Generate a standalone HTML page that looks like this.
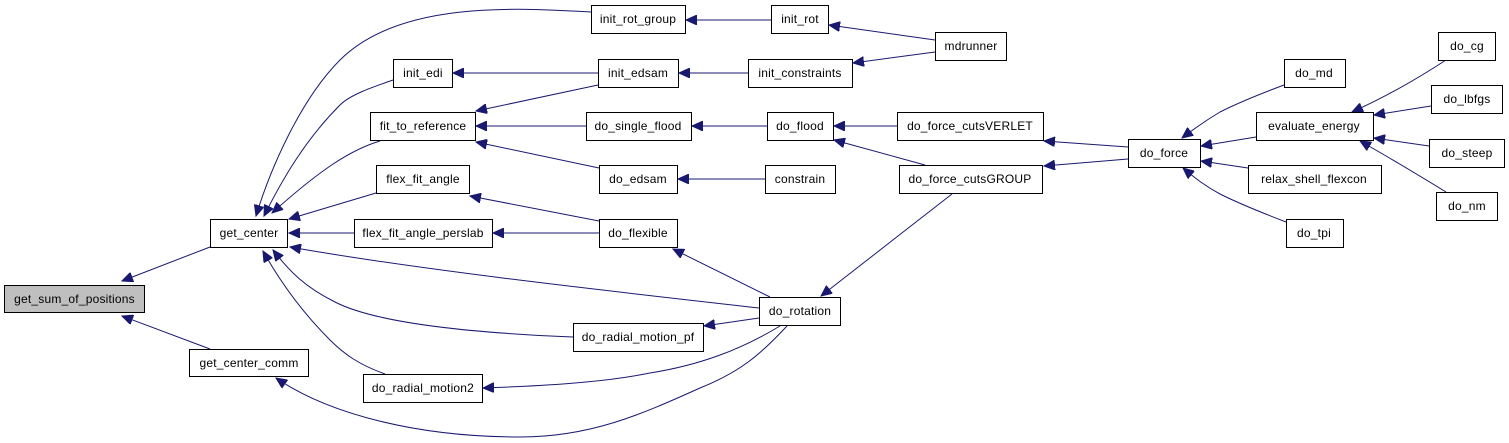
<!DOCTYPE html>
<html><head><meta charset="utf-8"><style>
html,body{margin:0;padding:0;background:#fff;}
svg{display:block;}
text{font-family:"Liberation Sans",Arial,sans-serif;font-size:12px;letter-spacing:0.2px;fill:#000;text-anchor:middle;}
rect{fill:#fff;stroke:#000;stroke-width:1;}
path{fill:none;stroke:#191970;stroke-width:1;}
</style></head><body>
<svg width="1509" height="443" viewBox="0 0 1509 443">
<defs><marker id="a" markerWidth="12" markerHeight="10" refX="11" refY="5" orient="auto" markerUnits="userSpaceOnUse"><path d="M0,0 L11,5 L0,10 Z" style="fill:#191970;stroke:#191970"/></marker></defs>
<g marker-end="url(#a)">
<path d="M210,247 L122,281"/>
<path d="M210,349 L122,316"/>
<path d="M591,12 C520,8 400,0 340,60 C300,100 270,170 256,216"/>
<path d="M393,80 C370,88 350,95 340,105 C305,140 282,180 264,216"/>
<path d="M380,141 C350,150 320,170 272,213"/>
<path d="M376,193 L289,219"/>
<path d="M354,233 L289,233"/>
<path d="M759,308 C600,290 420,270 290,247"/>
<path d="M573,337 C450,332 370,320 335,302 C305,287 290,272 273,250"/>
<path d="M385,374 C360,365 345,355 330,340 C305,315 282,285 263,251"/>
<path d="M598,73 L453,73"/>
<path d="M598,85 L476,111"/>
<path d="M586,126 L476,126"/>
<path d="M599,168 L476,142"/>
<path d="M599,221 L470,196"/>
<path d="M599,233 L493,233"/>
<path d="M770,297 L673,249"/>
<path d="M759,318 L704,326"/>
<path d="M780,326 C740,350 700,365 650,373 C600,383 540,386 483,388"/>
<path d="M787,326 C760,355 740,372 700,388 C640,415 590,437 520,437 C420,437 330,415 276,378"/>
<path d="M771,20 L686,20"/>
<path d="M748,73 L679,73"/>
<path d="M935,40 L829,25"/>
<path d="M935,52 L853,63"/>
<path d="M767,126 L692,126"/>
<path d="M765,179 L678,179"/>
<path d="M897,126 L834,126"/>
<path d="M925,165 L834,140"/>
<path d="M952,194 L821,296"/>
<path d="M1128,147 L1044,141"/>
<path d="M1128,159 L1044,166"/>
<path d="M1284,85 C1260,94 1240,102 1220,112 C1205,121 1195,128 1182,138"/>
<path d="M1256,137 L1201,146"/>
<path d="M1248,168 L1201,161"/>
<path d="M1286,222 C1260,212 1240,204 1220,194 C1205,186 1195,178 1183,168"/>
<path d="M1446,60 C1420,77 1390,95 1352,112"/>
<path d="M1431,106 L1374,115"/>
<path d="M1429,146 L1374,138"/>
<path d="M1446,192 C1420,176 1390,158 1360,141"/>
</g>
<rect x="4.5" y="285.5" width="140" height="27" style="fill:#bfbfbf"/><text x="74.5" y="303">get_sum_of_positions</text>
<rect x="210.5" y="219.5" width="77" height="28"/><text x="249" y="237">get_center</text>
<rect x="189.5" y="349.5" width="119" height="27"/><text x="249" y="367">get_center_comm</text>
<rect x="393.5" y="59.5" width="59" height="28"/><text x="423" y="77">init_edi</text>
<rect x="370.5" y="112.5" width="105" height="28"/><text x="423" y="130">fit_to_reference</text>
<rect x="376.5" y="165.5" width="93" height="28"/><text x="423" y="183">flex_fit_angle</text>
<rect x="354.5" y="219.5" width="138" height="28"/><text x="423" y="237">flex_fit_angle_perslab</text>
<rect x="363.5" y="374.5" width="119" height="28"/><text x="423" y="392">do_radial_motion2</text>
<rect x="591.5" y="5.5" width="94" height="28"/><text x="638" y="23">init_rot_group</text>
<rect x="771.5" y="5.5" width="57" height="28"/><text x="800" y="23">init_rot</text>
<rect x="935.5" y="32.5" width="71" height="28"/><text x="971" y="50">mdrunner</text>
<rect x="598.5" y="59.5" width="80" height="28"/><text x="638" y="77">init_edsam</text>
<rect x="748.5" y="59.5" width="104" height="28"/><text x="800" y="77">init_constraints</text>
<rect x="586.5" y="112.5" width="105" height="28"/><text x="638" y="130">do_single_flood</text>
<rect x="767.5" y="112.5" width="66" height="28"/><text x="800" y="130">do_flood</text>
<rect x="897.5" y="112.5" width="146" height="28"/><text x="970" y="130">do_force_cutsVERLET</text>
<rect x="599.5" y="165.5" width="78" height="28"/><text x="638" y="183">do_edsam</text>
<rect x="765.5" y="165.5" width="70" height="28"/><text x="800" y="183">constrain</text>
<rect x="899.5" y="165.5" width="143" height="28"/><text x="970" y="183">do_force_cutsGROUP</text>
<rect x="599.5" y="219.5" width="78" height="28"/><text x="638" y="237">do_flexible</text>
<rect x="759.5" y="297.5" width="81" height="28"/><text x="800" y="315">do_rotation</text>
<rect x="573.5" y="323.5" width="130" height="28"/><text x="638" y="341">do_radial_motion_pf</text>
<rect x="1438.5" y="32.5" width="57" height="28"/><text x="1467" y="50">do_cg</text>
<rect x="1284.5" y="59.5" width="61" height="28"/><text x="1314" y="77">do_md</text>
<rect x="1431.5" y="85.5" width="71" height="28"/><text x="1467" y="103">do_lbfgs</text>
<rect x="1256.5" y="112.5" width="117" height="28"/><text x="1314" y="130">evaluate_energy</text>
<rect x="1429.5" y="139.5" width="75" height="28"/><text x="1467" y="157">do_steep</text>
<rect x="1128.5" y="139.5" width="72" height="28"/><text x="1164" y="157">do_force</text>
<rect x="1248.5" y="165.5" width="133" height="28"/><text x="1314" y="183">relax_shell_flexcon</text>
<rect x="1436.5" y="192.5" width="61" height="28"/><text x="1467" y="210">do_nm</text>
<rect x="1286.5" y="219.5" width="57" height="28"/><text x="1314" y="237">do_tpi</text>
</svg>
</body></html>
